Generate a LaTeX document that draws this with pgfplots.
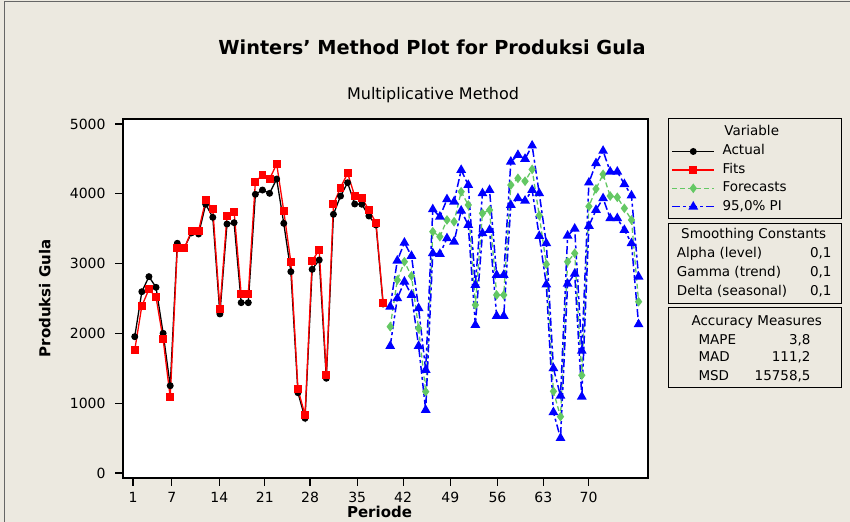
\documentclass[border=0pt]{standalone}
\usepackage{pgfplots}
\pgfplotsset{compat=1.18}
\usepackage{pgfplotstable}
\usepackage{fontspec}
\setmainfont{DejaVu Sans}
\definecolor{bg}{RGB}{236,233,224}
\definecolor{fgreen}{RGB}{100,200,100}
\definecolor{pblue}{RGB}{0,0,255}

\pgfplotstableread{
t actual fits
1 1953 1762
2 2597 2393
3 2813 2632
4 2660 2517
5 2001 1915
6 1250 1084
7 3291 3228
8 3230 3219
9 3440 3471
10 3424 3471
11 3850 3911
12 3663 3777
13 2278 2354
14 3567 3682
15 3586 3744
16 2440 2564
17 2440 2564
18 3993 4174
19 4054 4269
20 4007 4212
21 4212 4427
22 3577 3754
23 2884 3019
24 1150 1199
25 784 831
26 2918 3042
27 3052 3195
28 1357 1404
29 3706 3850
30 3968 4088
31 4159 4294
32 3854 3968
33 3850 3944
34 3682 3768
35 3553 3586
36 2421 2440
}\actualtbl

\pgfplotstableread{
t fc up lo
37 2096 2383 1819
38 2765 3042 2503
39 3027 3299 2741
40 2822 3109 2550
41 2073 2360 1819
42 1165 1476 903
43 3457 3777 3148
44 3386 3672 3138
45 3625 3921 3362
46 3600 3887 3314
47 4030 4341 3758
48 3840 4126 3553
49 2407 2693 2120
50 3720 4007 3434
51 3768 4054 3481
52 2550 2837 2249
53 2550 2837 2249
54 4126 4460 3840
55 4222 4556 3935
56 4180 4500 3900
57 4350 4690 4054
58 3690 4007 3395
59 2990 3291 2700
60 1170 1500 870
61 807 1105 500
62 3027 3400 2710
63 3148 3500 2855
64 1400 1750 1093
65 3820 4160 3540
66 4070 4437 3768
67 4280 4615 3935
68 3968 4317 3649
69 3950 4317 3649
70 3792 4138 3481
71 3625 3975 3291
72 2454 2812 2130
}\fctbl

\newcommand{\lf}{\fontsize{13.5bp}{16bp}\selectfont}

\begin{document}
\begin{tikzpicture}[x=1bp,y=1bp]
\useasboundingbox (0,0) rectangle (850,522);
\fill[bg] (0,0) rectangle (850,522);
\draw[black!60, line width=1.5bp] (4.5,0) -- (4.5,520.5) -- (850,520.5);
\node[font=\fontsize{19.3bp}{22bp}\selectfont\bfseries] at (432,475) {Winters' Method Plot for Produksi Gula};
\node[font=\fontsize{16bp}{19bp}\selectfont] at (433,427) {Multiplicative Method};
\coordinate (axorig) at (123,44);

\begin{axis}[
  at={(axorig)}, anchor=south west,
  width=525bp, height=359bp, scale only axis,
  xmin=-0.655, xmax=73.33, ymin=-72, ymax=5072,
  axis background/.style={fill=white},
  axis line style={line width=1.5bp, black},
  tick align=outside, tick pos=left,
  major tick length=8bp,
  every tick/.style={black, line width=1.2bp},
  xtick={0.76,6.23,12.93,19.34,25.70,32.35,38.82,45.47,52.12,58.58,64.95},
  xticklabels={1,7,14,21,28,35,42,49,56,63,70},
  ytick={0,1000,2000,3000,4000,5000},
  /pgf/number format/assume math mode=true,
  /pgf/number format/set thousands separator={},
  tick label style={font=\fontsize{14bp}{16bp}\selectfont},
  yticklabel style={xshift=-6bp},
  xticklabel style={yshift=-3bp},
  xlabel={Periode}, ylabel={Produksi Gula},
  label style={font=\fontsize{15bp}{18bp}\selectfont\bfseries},
  xlabel style={at={(axis description cs:0.4886,-0.0947)}, anchor=center},
  ylabel style={at={(axis description cs:-0.149,0.5)}, anchor=center},
  legend style={
    at={(axis description cs:1.0448,0.9318)}, anchor=north west,
    draw=none, fill=none, inner sep=0pt, outer sep=0pt,
    font=\lf, row sep=2.4bp,
    nodes={inner sep=1.5bp, text height=10bp, text depth=3bp},
    /tikz/every odd column/.append style={column sep=6bp},
  },
  legend cell align=left,
  legend image code/.code={\draw[mark repeat=2,mark phase=2] plot coordinates {(0bp,0bp) (21bp,0bp) (42bp,0bp)};},
]
\addplot[black, line width=1.3bp, mark=*, mark size=2.8bp] table[x=t,y=actual]{\actualtbl};
\addlegendentry{Actual}
\addplot[red, line width=1.3bp, mark=square*, mark size=3.3bp] table[x=t,y=fits]{\actualtbl};
\addlegendentry{Fits}
\addplot[fgreen, line width=1.3bp, dash pattern=on 5bp off 3bp, mark=diamond*, mark size=3.8bp, mark options={solid}] table[x=t,y=fc]{\fctbl};
\addlegendentry{Forecasts}
\addplot[pblue, line width=1.5bp, dash pattern=on 8bp off 3bp on 3bp off 3bp, mark=triangle*, mark size=4.2bp, mark options={solid}] table[x=t,y=up]{\fctbl};
\addlegendentry{95,0\% PI}
\addplot[pblue, line width=1.5bp, dash pattern=on 8bp off 3bp on 3bp off 3bp, mark=triangle*, mark size=4.2bp, mark options={solid}, forget plot] table[x=t,y=lo]{\fctbl};
\end{axis}

% legend boxes
\draw[black, line width=1.5bp] (668.3,303.7) rectangle (841.7,403.7);
\draw[black, line width=1.5bp] (668.3,218.7) rectangle (841.7,298.7);
\draw[black, line width=1.5bp] (668.3,134.3) rectangle (841.7,214.3);
\begin{scope}[every node/.style={font=\lf, inner sep=0pt, text height=10bp, text depth=3bp}]
\node at (751.7,390.3) {Variable};
\node at (753.7,287) {Smoothing Constants};
\node[anchor=west] at (676.7,267.7) {Alpha (level)};
\node[anchor=west] at (676.7,248.7) {Gamma (trend)};
\node[anchor=west] at (676.7,229.7) {Delta (seasonal)};
\node[anchor=east] at (831.7,267.7) {0,1};
\node[anchor=east] at (831.7,248.7) {0,1};
\node[anchor=east] at (831.7,229.7) {0,1};
\node at (756.7,200.3) {Accuracy Measures};
\node[anchor=west] at (698.3,181) {MAPE};
\node[anchor=west] at (698.3,163.7) {MAD};
\node[anchor=west] at (698.3,145) {MSD};
\node[anchor=east] at (810.7,181) {3,8};
\node[anchor=east] at (810.7,163.7) {111,2};
\node[anchor=east] at (810.7,145) {15758,5};
\end{scope}
\end{tikzpicture}
\end{document}
